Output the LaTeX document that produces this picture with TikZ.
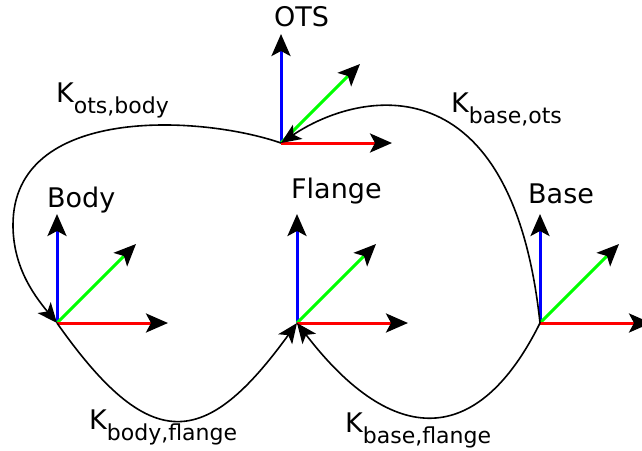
\documentclass[tikz,border=0pt]{standalone}
\usepackage{fontspec}
\setmainfont{DejaVu Sans}
\usetikzlibrary{arrows.meta}
\definecolor{ax}{RGB}{255,0,0}
\definecolor{ay}{RGB}{0,255,0}
\definecolor{az}{RGB}{0,0,255}
\newcommand{\subfnt}{\fontsize{22}{24}\selectfont}
\begin{document}
\begin{tikzpicture}[x=1pt,y=-1pt,
  axishead/.style={-{Stealth[length=22pt,width=19pt,inset=5pt,color=black]}},
  axline/.style={line width=3pt,axishead},
  curve/.style={line width=1.6pt,black,-{Stealth[length=20pt,width=17pt,inset=5pt]}},
  lbl/.style={anchor=base west,inner sep=0pt,font=\fontsize{27}{30}\selectfont}]
\useasboundingbox (0,0) rectangle (642,450);
\begin{scope}
\clip (0,0) rectangle (642,450);
\foreach \n/\x/\y in {ots/281/143, body/57/323, flange/297/323, base/540/323} {
  \coordinate (\n) at (\x,\y);
  \coordinate (\n-x) at (\x+111,\y);
  \coordinate (\n-y) at (\x+79,\y-79);
  \coordinate (\n-z) at (\x,\y-109);
  \draw[axline,az] (\n) -- (\n-z);
  \draw[axline,ay] (\n) -- (\n-y);
  \draw[axline,ax] (\n) -- (\n-x);
}
\end{scope}
% curves
\coordinate (left) at (13,225);
\draw[curve] (ots) .. controls (200,115) and (13,105) .. (left)
  .. controls (13,265) and (32,293) .. (body);
\draw[curve] (body) .. controls (150,455) and (205,450) .. (flange);
\draw[curve] (base) .. controls (478,448) and (393,448) .. (flange);
\draw[curve] (base) .. controls (512,60) and (360,90) .. (ots);
% labels
\node[lbl] (tots) at (274,26) {OTS};
\node[lbl] (tbody) at (47,207) {Body};
\node[lbl] (tflange) at (291,198) {Flange};
\node[lbl] (tbase) at (528,203) {Base};
\node[lbl] (kob) at (56,102) {K\raisebox{-11pt}{\subfnt ots,body}};
\node[lbl] (kbo) at (451,112) {K\raisebox{-11pt}{\subfnt base,ots}};
\node[lbl] (kbf) at (89,429) {K\raisebox{-11pt}{\subfnt body,flange}};
\node[lbl] (kbsf) at (345,432) {K\raisebox{-11pt}{\subfnt base,flange}};
\end{tikzpicture}
\end{document}
